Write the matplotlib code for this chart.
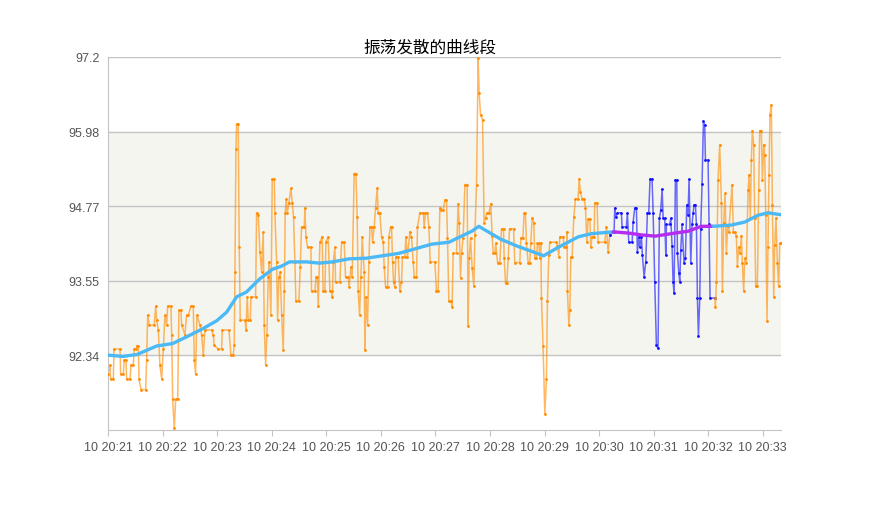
import matplotlib
matplotlib.use('Agg')
import matplotlib.pyplot as plt
import matplotlib.dates as mdates
import pandas as pd

# seconds after 10 20:21:00 and the sampled values
orange_a_sec = [0.0, 2.2, 2.9, 5.9, 6.6, 13.2, 13.9, 16.8, 17.9, 19.8, 20.5, 24.2,
                25.3, 27.8, 28.9, 30.8, 31.9, 33.3, 34.1, 36.3, 41.4, 42.5, 43.6,
                45.4, 50.9, 52.4, 53.5, 55.3, 57.1, 59.0, 60.8, 62.6, 64.5, 65.6,
                69.2, 70.0, 71.1, 72.9, 74.4, 76.6, 78.0, 80.2, 81.0, 84.6, 86.4,
                88.3, 91.2, 93.8, 94.9, 96.3, 97.8, 101.1, 102.9, 104.8, 106.6,
                113.9, 115.8, 116.8, 121.2, 124.9, 125.7, 133.0, 135.2, 137.7,
                138.8, 139.6, 140.7, 141.4, 143.2, 144.3, 145.4, 150.6, 151.7,
                153.1, 154.2, 156.4, 157.2, 162.3, 163.4, 165.2, 167.1, 168.9,
                170.7, 171.8, 173.3, 174.7, 176.2, 177.3, 179.1, 180.6, 182.8,
                183.5, 185.4, 186.5, 187.9, 189.4, 190.9, 192.7, 193.8, 194.9,
                196.0, 197.1, 198.9, 201.1, 202.6, 204.0, 205.5, 206.6, 209.9,
                211.4, 212.8, 215.8, 216.5, 217.6, 219.4, 223.1, 223.8, 227.5,
                228.6, 230.1, 231.2, 233.0, 235.5, 236.6, 238.5, 239.6, 242.1,
                244.0, 245.8, 246.6, 247.7, 249.5, 250.2, 255.0, 256.8, 259.7,
                261.2, 264.1, 265.2, 267.1, 268.5, 270.7, 272.6, 274.0, 275.1,
                276.6, 278.1, 279.5, 281.7, 282.5, 283.6, 285.4, 286.9, 288.0,
                289.8, 290.9, 292.7, 294.2, 296.0, 297.1, 298.9, 300.8, 302.6,
                303.7, 305.2, 307.4, 308.8, 310.7, 311.8, 312.9, 314.0, 315.4,
                316.5, 319.1, 320.9, 322.7, 323.8, 326.4, 327.5, 329.3, 331.9,
                333.7, 335.6, 336.7, 339.2, 340.3, 342.9, 346.6, 347.7, 349.1,
                351.3, 352.8, 354.3, 359.4, 361.2, 363.0, 364.9, 366.7, 368.6,
                370.4, 372.2, 373.3, 374.8, 377.0, 378.4, 379.5, 383.2, 385.0,
                386.1, 387.6, 388.7, 390.5, 392.4, 394.9, 396.0, 397.1, 398.6,
                400.4, 402.3, 403.4, 405.2, 407.0, 408.1, 409.6, 411.8, 413.6,
                415.1, 416.5, 418.7, 420.9, 422.4, 423.5, 425.3, 426.4, 428.3,
                430.8, 432.7, 434.9, 435.6, 437.1, 438.5, 440.0, 441.5, 445.9,
                447.3, 452.8, 453.9, 456.1, 457.6, 459.0, 460.1, 462.0, 463.8,
                464.9, 466.4, 468.2, 469.3, 471.1, 472.2, 473.7, 474.8, 475.9,
                476.6, 478.4, 480.3, 482.1, 483.2, 484.7, 485.8, 493.1, 494.2,
                495.7, 496.8, 500.4, 501.5, 504.1, 504.8, 505.2, 506.7, 507.8,
                508.9, 510.3, 512.2, 514.0, 516.9, 518.0, 519.5, 521.3, 523.5,
                525.0, 526.5, 527.9, 529.8, 530.8, 532.3, 534.5, 535.2, 537.8,
                538.9, 546.2, 548.1, 549.9, 551.7]
orange_a_val = [92.03, 92.18, 91.95, 91.95, 92.44, 92.44, 92.03, 92.03, 92.26, 92.26,
                91.95, 91.95, 92.18, 92.18, 92.44, 92.44, 92.49, 92.49, 91.95, 91.78,
                91.78, 92.26, 92.99, 92.83, 92.83, 93.14, 92.91, 92.75, 92.18, 91.95,
                92.44, 92.99, 92.83, 93.14, 93.14, 92.67, 91.62, 91.15, 91.62, 91.62,
                93.07, 93.07, 92.83, 92.67, 92.99, 92.99, 93.14, 93.14, 92.26, 92.03,
                92.99, 92.83, 92.67, 92.34, 92.75, 92.75, 92.67, 92.50, 92.44, 92.44,
                92.75, 92.75, 92.34, 92.34, 92.50, 93.70, 95.70, 96.11, 96.11, 94.10,
                92.91, 92.91, 92.75, 93.29, 92.91, 92.91, 93.29, 93.29, 94.66, 94.62,
                94.02, 93.70, 94.34, 92.83, 92.18, 92.67, 93.61, 93.86, 92.99, 95.21,
                95.21, 94.66, 93.86, 92.91, 93.61, 93.70, 92.99, 92.42, 93.38, 94.66,
                94.89, 94.66, 94.82, 95.06, 94.82, 94.59, 93.86, 93.22, 93.22, 93.78,
                94.43, 94.43, 94.74, 94.27, 94.10, 94.10, 93.38, 93.38, 93.61, 93.61,
                93.14, 94.18, 94.27, 93.38, 93.38, 94.18, 94.27, 93.38, 93.38, 93.29,
                93.86, 94.10, 93.53, 93.53, 94.18, 94.18, 93.61, 93.61, 93.45, 93.78,
                93.61, 95.30, 95.30, 94.59, 93.38, 92.99, 93.61, 94.27, 93.70, 92.42,
                93.29, 92.83, 93.86, 94.43, 94.43, 94.18, 94.43, 94.74, 95.06, 94.66,
                94.66, 94.27, 94.18, 93.78, 93.45, 93.45, 94.27, 94.43, 94.43, 93.86,
                93.53, 93.45, 93.94, 93.94, 93.38, 93.53, 93.94, 93.94, 94.27, 93.94,
                94.35, 94.27, 93.86, 93.61, 93.61, 94.43, 94.66, 94.66, 94.43, 94.66,
                94.66, 94.43, 93.86, 93.86, 93.38, 93.38, 94.74, 94.71, 94.71, 94.87,
                94.87, 94.25, 93.22, 93.22, 93.13, 94.00, 94.00, 94.81, 94.50, 93.60,
                94.00, 94.25, 95.12, 95.12, 92.81, 93.92, 94.25, 93.76, 93.46, 94.30,
                95.12, 97.18, 96.62, 96.26, 96.18, 94.50, 94.58, 94.65, 94.65, 94.81,
                94.28, 94.00, 94.00, 94.16, 93.85, 93.85, 94.40, 94.40, 93.92, 93.51,
                93.51, 93.92, 94.40, 94.40, 93.85, 93.85, 94.25, 94.25, 94.65, 94.65,
                94.16, 93.85, 93.85, 94.16, 94.58, 94.50, 93.92, 93.92, 94.16, 94.16,
                93.92, 94.16, 93.27, 92.49, 91.38, 91.95, 93.22, 93.97, 94.18, 94.18,
                94.12, 93.94, 94.27, 94.27, 94.10, 94.10, 94.35, 93.38, 92.83, 93.07,
                93.94, 93.94, 94.59, 94.89, 94.89, 95.21, 95.00, 94.89, 94.89, 94.74,
                94.18, 94.56, 94.56, 94.10, 94.27, 94.27, 94.82, 94.82, 94.18, 94.18,
                94.43, 94.02, 94.30]

blue_sec = [556.5, 557.2, 558.3, 560.2, 564.5, 565.3, 570.0, 571.1, 572.6, 576.3,
            577.4, 579.2, 581.0, 582.1, 583.6, 584.7, 586.5, 587.6, 589.5, 591.3,
            593.1, 594.6, 596.0, 598.2, 599.4, 601.2, 603.0, 604.8, 606.3, 607.8,
            609.3, 610.4, 612.2, 613.3, 614.0, 617.7, 618.8, 620.2, 621.3, 622.4,
            623.9, 625.4, 626.1, 627.6, 628.7, 629.8, 631.2, 633.4, 634.9, 636.4,
            637.8, 638.9, 640.8, 642.2, 643.3, 644.4, 645.9, 647.0, 648.1, 649.2,
            650.7, 651.7, 653.2, 654.7, 656.1, 656.9, 659.8, 660.9, 662.0, 667.5]
blue_val = [94.35, 94.74, 94.59, 94.66, 94.66, 94.43, 94.43, 94.66, 94.18, 94.18,
            94.51, 94.74, 94.74, 94.02, 94.27, 94.10, 94.27, 93.97, 93.61, 93.86,
            94.66, 94.66, 95.21, 95.21, 94.66, 93.53, 92.50, 92.45, 94.57, 94.71,
            95.05, 94.57, 94.57, 93.97, 94.47, 94.47, 94.57, 94.12, 93.54, 93.35,
            95.20, 95.20, 94.01, 93.68, 93.54, 94.06, 94.47, 93.84, 93.92, 94.79,
            94.63, 95.21, 93.84, 94.47, 94.65, 94.79, 94.79, 94.47, 93.27, 92.65,
            93.27, 94.39, 95.13, 96.15, 96.09, 95.52, 95.52, 94.47, 93.27, 93.27]

orange_b_sec = [667.9, 669.0, 670.8, 672.6, 674.5, 675.6, 677.0, 678.5, 679.9, 681.4,
                682.5, 686.2, 687.6, 689.1, 690.9, 692.0, 693.5, 695.0, 696.4, 697.5,
                699.0, 700.1, 701.9, 703.8, 704.9, 706.3, 707.4, 708.5, 710.0, 711.1,
                712.2, 714.0, 715.5, 716.6, 718.4, 719.5, 721.0, 722.1, 723.2, 724.6,
                725.7, 726.8, 727.9, 729.4, 730.5, 732.0, 733.1, 734.5, 736.0, 737.5,
                738.6, 739.7]
orange_b_val = [93.13, 93.54, 95.20, 95.77, 94.82, 93.38, 94.50, 94.98, 94.01, 94.45,
                94.34, 95.12, 94.34, 94.34, 94.29, 93.80, 94.10, 94.01, 94.29, 93.84,
                93.38, 93.92, 93.84, 95.03, 95.28, 94.57, 95.52, 96.00, 95.77, 94.57,
                93.46, 93.46, 95.03, 96.00, 96.00, 95.20, 95.77, 95.61, 94.63, 92.89,
                94.11, 95.28, 96.26, 96.42, 94.79, 93.29, 94.14, 94.57, 93.84, 93.46,
                94.16, 94.16]

# moving average, three pieces
avg_a_sec = [0.0, 16.4, 31.8, 42.7, 53.7, 71.2, 86.6, 104.1, 119.5, 130.4, 141.4,
             152.3, 166.6, 180.8, 190.7, 199.5, 218.1, 232.4, 246.6, 265.2, 283.9,
             320.0, 356.2, 374.8, 400.0, 407.7, 431.8, 449.4, 468.0, 479.0, 495.4,
             517.3, 531.6, 555.7]
avg_a_val = [92.34, 92.32, 92.35, 92.42, 92.49, 92.53, 92.64, 92.77, 92.90, 93.04,
             93.29, 93.37, 93.58, 93.74, 93.79, 93.86, 93.86, 93.84, 93.86, 93.91,
             93.92, 94.00, 94.15, 94.18, 94.36, 94.44, 94.23, 94.12, 94.02, 93.96,
             94.10, 94.27, 94.32, 94.35]
avg_b_sec = [555.7, 572.1, 586.4, 601.7, 623.6, 637.9, 652.1, 665.3]
avg_b_val = [94.35, 94.33, 94.30, 94.28, 94.33, 94.36, 94.44, 94.44]
avg_c_sec = [665.3, 685.0, 700.3, 714.6, 725.6, 739.7]
avg_c_val = [94.44, 94.46, 94.51, 94.62, 94.66, 94.63]

y_ticks = [92.34, 93.55, 94.77, 95.98, 97.2]
y_min, y_max = 91.12, 97.2
band = (92.34, 95.98)

start = pd.Timestamp('2024-01-10 20:21:00')


def to_time(secs):
  return start + pd.to_timedelta(secs, unit='s')


fig = plt.figure(figsize=(8.94, 5.06), dpi=100)
ax = fig.add_axes([0.1208, 0.1482, 0.7528, 0.7372])

ax.axhspan(band[0], band[1], color='#f5f5f0', zorder=0)
for y in y_ticks:
  ax.axhline(y, color='#c4c4c4', lw=1, zorder=1)

orange = '#ff8c00'
blue = '#1010ff'

# joining the pieces so the line stays continuous
oa_t = to_time(orange_a_sec)
b_t = to_time([orange_a_sec[-1]] + blue_sec)
b_v = [orange_a_val[-1]] + blue_val
ob_t = to_time([blue_sec[-1]] + orange_b_sec)
ob_v = [blue_val[-1]] + orange_b_val

for t, v, c in [(oa_t, orange_a_val, orange), (b_t, b_v, blue),
                (ob_t, ob_v, orange)]:
  ax.plot(t, v, color=c, lw=1.1, alpha=0.62, zorder=2)
  ax.plot(t, v, color=c, lw=0, marker='o', ms=1.0, zorder=3)

ax.plot(to_time(avg_a_sec), avg_a_val, color='#4bb9f5', lw=2.4, zorder=4,
        solid_capstyle='round')
ax.plot(to_time(avg_b_sec), avg_b_val, color='#b52cf0', lw=2.4, zorder=4,
        solid_capstyle='round')
ax.plot(to_time(avg_c_sec), avg_c_val, color='#4bb9f5', lw=2.4, zorder=4,
        solid_capstyle='round')

ax.set_xlim(to_time(0), to_time(740))
ax.set_ylim(y_min, y_max)
ax.set_yticks(y_ticks)
ax.set_yticklabels(['92.34', '93.55', '94.77', '95.98', '97.2'])
ax.xaxis.set_major_locator(mdates.MinuteLocator())
ax.xaxis.set_major_formatter(mdates.DateFormatter('%d %H:%M'))

for side in ['top', 'right']:
  ax.spines[side].set_visible(False)
for side in ['left', 'bottom']:
  ax.spines[side].set_color('#c4c4c4')
ax.tick_params(axis='y', length=0, pad=6, labelsize=9, labelcolor='#555555')
ax.tick_params(axis='x', length=4, color='#c4c4c4', pad=4, labelsize=9,
               labelcolor='#555555')
for lab in ax.get_xticklabels() + ax.get_yticklabels():
  lab.set_family(['Liberation Sans', 'DejaVu Sans'])

fig.text(0.481, 0.905, '振荡发散的曲线段', ha='center', va='center', fontsize=12,
         color='#000000', family=['Noto Sans CJK SC', 'DejaVu Sans'])

fig.savefig('out.png', dpi=100)
